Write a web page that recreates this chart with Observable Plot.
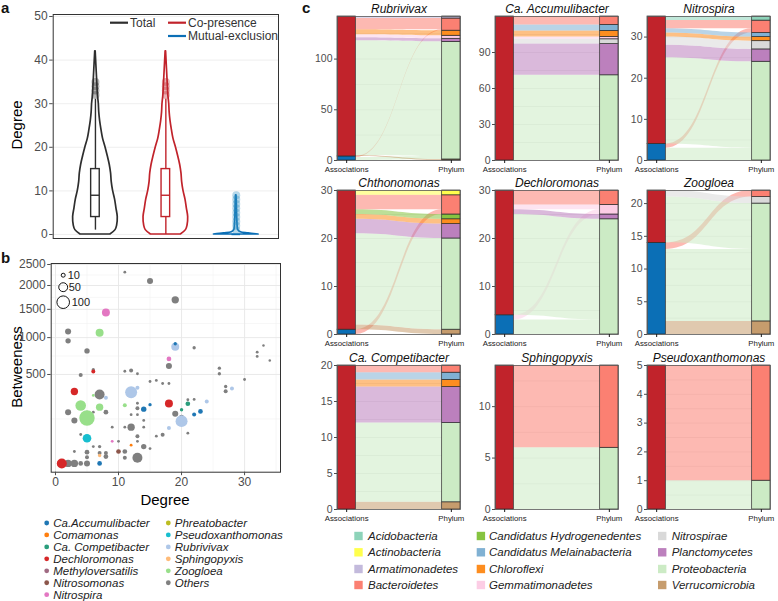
<!DOCTYPE html>
<html><head><meta charset="utf-8">
<script src="https://cdn.jsdelivr.net/npm/d3@7"></script>
<script src="https://cdn.jsdelivr.net/npm/@observablehq/plot@0.6"></script>
<style>
body{margin:0;background:#fff;}
#root{position:relative;width:778px;height:601px;overflow:hidden;font-family:"Liberation Sans",Arial,Helvetica,sans-serif;}
#root svg{overflow:visible;}
</style></head><body><div id="root"></div>
<script>
// ---------------- DATA ----------------
// panel a : violins (relative density) and box statistics
const groups = ["Total", "Co-presence", "Mutual-exclusion"];
const violinLevels = [0,1,2,4,6,8,10,12,14,16,18,20,22,24,26,28,30,32,34,36,38,40,42];
const totalDensity = [0.67,0.90,0.97,1.0,0.94,0.88,0.79,0.73,0.70,0.64,0.55,0.45,0.34,0.27,0.21,0.17,0.15,0.11,0.09,0.07,0.05,0.03,0.01];
const coDensity    = [0.67,0.90,0.97,1.0,0.94,0.88,0.79,0.73,0.70,0.64,0.55,0.45,0.34,0.27,0.21,0.17,0.15,0.11,0.09,0.07,0.05,0.03,0.01];
const mutualLevels = [0,0.25,0.5,1,2,3,4,5,6,7,8,9];
const mutualDensity = [1.0,0.55,0.2,0.09,0.06,0.05,0.04,0.035,0.03,0.025,0.02,0.01];
const q1 = [4, 4, 0], median = [9, 9, 0], q3 = [15, 15, 0];
const whiskerLow = [1, 0, 0], whiskerHigh = [31, 31, 0];
const outliers = [[32,33,34,35], [32,33,34,35], [1,2,3,4,5,6,7,8,9]];
const aTicks = [0,10,20,30,40,50];

// panel b : [degree, betweenness, size, genus]
const scatter = [
 [11,2310,5,"Others"],[15,2100,23,"Others"],[19,1690,34,"Others"],[8,1440,40,"Nitrospira"],
 [2,1100,23,"Others"],[2,950,18,"Others"],[7,1080,40,"Zoogloea"],[5,800,18,"Others"],
 [19,860,40,"Rubrivivax"],[19,905,7,"Ca.Accumulibacter"],[22,845,7,"Others"],[18,690,14,"Nitrospira"],
 [18,600,23,"Others"],[6,555,7,"Others"],[6,535,10,"Dechloromonas"],[4,495,10,"Others"],
 [11,537,5,"Others"],[12,546,10,"Others"],[13,508,5,"Others"],[26,573,7,"Others"],
 [26,508,7,"Others"],[30,445,5,"Others"],[32,782,5,"Others"],[32,723,5,"Others"],
 [33,878,4,"Others"],[34,670,4,"Others"],[15,424,5,"Others"],[16,435,5,"Others"],
 [17,404,5,"Others"],[18,404,5,"Others"],[3,327,34,"Dechloromonas"],[7,300,63,"Others"],
 [6,292,5,"Zoogloea"],[8,272,10,"Rubrivivax"],[12,321,90,"Rubrivivax"],[13,362,10,"Rubrivivax"],
 [27,374,7,"Others"],[27,330,10,"Others"],[28,355,10,"Rubrivivax"],[4,212,71,"Zoogloea"],
 [7,200,34,"Zoogloea"],[5,130,150,"Zoogloea"],[2,166,23,"Others"],[3,117,23,"Others"],
 [5,166,5,"Others"],[6,166,5,"Others"],[8,166,14,"Others"],[11,214,10,"Zoogloea"],
 [13,229,5,"Others"],[13,193,10,"Others"],[14,186,18,"Ca.Accumulibacter"],[15,218,7,"Ca.Accumulibacter"],
 [18,227,40,"Dechloromonas"],[19,156,23,"Others"],[20,135,14,"Others"],[20,113,90,"Rubrivivax"],
 [20,182,7,"Ca. Competibacter"],[21,225,14,"Ca. Competibacter"],[21,256,5,"Others"],[22,259,5,"Others"],
 [22,152,10,"Ca.Accumulibacter"],[23,171,14,"Ca.Accumulibacter"],[24,243,10,"Rubrivivax"],[18,79,10,"Rubrivivax"],
 [21,58,5,"Others"],[12,83,34,"Others"],[13,150,5,"Others"],[12,150,5,"Others"],
 [14,117,5,"Others"],[14,83,5,"Others"],[11,83,5,"Others"],[9,83,5,"Others"],
 [5,40,47,"Pseudoxanthomonas"],[4,53,5,"Others"],[13,47,10,"Others"],[16,47,5,"Others"],
 [17,52,10,"Others"],[9,31,5,"Nitrospira"],[10,31,5,"Others"],[12,21,5,"Comamonas"],
 [13,31,5,"Others"],[14,18,18,"Others"],[15,14,5,"Others"],[10,9,14,"Nitrosomonas"],
 [6,18,5,"Others"],[7,18,7,"Others"],[3,9,5,"Others"],[5,8,14,"Others"],
 [7,7,10,"Others"],[8,7,10,"Others"],[11,9,14,"Others"],[11,2,10,"Others"],
 [13,2,63,"Others"],[7,4,7,"Sphingopyxis"],[7,0,14,"Ca.Accumulibacter"],[1,0,63,"Dechloromonas"],
 [2,0,34,"Others"],[3,0,34,"Others"],[4,0,14,"Others"],[5,0,23,"Others"],
 [5,2.5,10,"Others"],[8,3,14,"Others"]
];
const genusNames = ["Ca.Accumulibacter","Comamonas","Ca. Competibacter","Dechloromonas","Methyloversatilis","Nitrosomonas","Nitrospira","Phreatobacter","Pseudoxanthomonas","Rubrivivax","Sphingopyxis","Zoogloea","Others"];
const genusColors = ["#1f77b4","#ff7f0e","#2a9d7c","#d62728","#a06a82","#8c564b","#e377c2","#bcbd22","#17becf","#aec7e8","#ffbb78","#98df8a","#7f7f7f"];
const bxTicks = [0,10,20,30], bxMinor = [5,15,25,35];
const byTicks = [500,1000,1500,2000,2500], byMinor = [125,729,1237,1741,2243];
const sizeLegend = [10,50,100];

// panel c : alluvial counts per phylum (order of phyla) for each genus
const phyla = ["Acidobacteria","Actinobacteria","Armatimonadetes","Bacteroidetes","Candidatus Hydrogenedentes","Candidatus Melainabacteria","Chloroflexi","Gemmatimonadetes","Nitrospirae","Planctomycetes","Proteobacteria","Verrucomicrobia"];
const phylumColors = ["#8dd3b9","#ffff4d","#c3badc","#fb8072","#86c441","#80b1d3","#fd8d1f","#fccde5","#d9d9d9","#bc80bd","#ccebc5","#c69c6d"];
const genera = ["Rubrivivax","Ca. Accumulibacter","Nitrospira","Chthonomonas","Dechloromonas","Zoogloea","Ca. Competibacter","Sphingopyxis","Pseudoxanthomonas"];
const assocs = ["Co-presence","Mutual-exclusion"];
const coCounts = [
  [0,0,2,11,0,0,5,3,0,3,113,1],
  [0,0,0,7,0,5,5,2,4,26,71,0],
  [1,0,0,2,0,1,1,0,2,3,21,0],
  [0,1,0,3,1,0,1,0,0,3,19,1],
  [0,0,0,3,0,0,0,1,0,1,21,0],
  [0,0,0,0,0,0,0,0,1,0,7,0],
  [0,0,0,1,0,1,1,0,0,5,11,1],
  [0,0,0,8,0,0,0,0,0,0,6,0],
  [0,0,0,4,0,0,0,0,0,0,1,0]
];
const mxCounts = [
  [0,0,0,1,0,0,0,0,0,0,3,0],
  [0,0,0,0,0,0,0,0,0,0,0,0],
  [0,0,0,1,0,0,0,0,0,0,3,0],
  [0,0,0,1,0,0,0,0,0,0,0,0],
  [0,0,0,0,0,0,0,1,0,0,3,0],
  [0,0,0,1,0,0,0,0,0,0,11,2],
  [0,0,0,0,0,0,0,0,0,0,0,0],
  [0,0,0,0,0,0,0,0,0,0,0,0],
  [0,0,0,0,0,0,0,0,0,0,0,0]
];
const cTicks = [[0,50,100],[0,30,60,90],[0,10,20,30],[0,10,20,30],[0,10,20,30],[0,5,10,15,20],[0,5,10,15,20],[0,5,10],[0,1,2,3,4,5]];
const axisLabels = ["Associations","Phylum"];

// ---------------- LAYOUT ----------------
const FONT = '"Liberation Sans", Arial, Helvetica, sans-serif';
const root = document.getElementById("root");
function place(node, left, top) {
  node.style.position = "absolute"; node.style.left = left + "px"; node.style.top = top + "px";
  root.appendChild(node);
}
const groupColors = ["#2e2e2e", "#c1232b", "#0b6fb6"];
const RED = "#c1232b", BLUE = "#0b6fb6";

// ---------- panel a ----------
{
  const HALF = 0.317, BOX = 0.061;
  const dens = [[violinLevels, totalDensity],[violinLevels, coDensity],[mutualLevels, mutualDensity]];
  const marks = [Plot.gridY(aTicks, {stroke: "#ebebeb", strokeOpacity: 1, strokeWidth: 0.8})];
  groups.forEach((g, i) => {
    const c = i + 1, col = groupColors[i];
    const rows = dens[i][0].map((y, k) => ({y, w: dens[i][1][k]}));
    marks.push(Plot.areaX(rows, {y: "y", x1: d => c - HALF * d.w, x2: d => c + HALF * d.w, fill: "white", stroke: col, strokeWidth: 1.7, curve: "catmull-rom"}));
    marks.push(Plot.ruleX([{lo: whiskerLow[i], hi: q1[i]}, {lo: q3[i], hi: whiskerHigh[i]}], {x: () => c, y1: "lo", y2: "hi", stroke: col, strokeWidth: 1.4}));
    marks.push(Plot.rect([{a: q1[i], b: q3[i]}], {x1: () => c - BOX, x2: () => c + BOX, y1: "a", y2: "b", fill: "white", stroke: col, strokeWidth: 1.4}));
    marks.push(Plot.ruleY([median[i]], {x1: () => c - BOX, x2: () => c + BOX, y: d => d, stroke: col, strokeWidth: 1.4}));
    marks.push(Plot.dot(outliers[i], {x: () => c, y: d => d, r: 4, fill: i === 2 ? "#2f8fc0" : col, fillOpacity: 0.35, stroke: "none"}));
  });
  marks.push(Plot.frame({stroke: "#333", strokeWidth: 1}));
  marks.push(Plot.axisY({ticks: aTicks, tickSize: 3.5, tickPadding: 2, fontSize: 12, color: "#4d4d4d", label: null}));
  const svg = Plot.plot({
    width: 290, height: 245, marginLeft: 52.7, marginRight: 12, marginTop: 14, marginBottom: 7,
    style: {fontFamily: FONT, background: "transparent", overflow: "visible"},
    x: {domain: [0.4, 3.6], axis: null, label: null},
    y: {domain: [-0.92, 50.46], label: null},
    marks
  });
  place(svg, 0, 0);
}

// ---------- panel b ----------
{
  const rows = scatter.map(([d, b, s, g]) => ({d, b, s, g}));
  const dyL = [11.7, 23.7, 38.7], dxT = [16.5, 17.5, 20.5];
  const svg = Plot.plot({
    width: 290, height: 258, marginLeft: 50.7, marginRight: 10, marginTop: 13, marginBottom: 36.3,
    style: {fontFamily: FONT, background: "transparent", overflow: "visible"},
    x: {domain: [-0.68, 35.7], label: null},
    y: {type: "sqrt", domain: [-4.84, 2525], label: null},
    r: {type: "sqrt", domain: [0, 100], range: [0, 6.3]},
    color: {domain: genusNames, range: genusColors},
    marks: [
      Plot.gridX(bxMinor, {stroke: "#f1f1f1", strokeOpacity: 1, strokeWidth: 0.6}),
      Plot.gridY(byMinor, {stroke: "#f1f1f1", strokeOpacity: 1, strokeWidth: 0.6}),
      Plot.gridX(bxTicks, {stroke: "#e6e6e6", strokeOpacity: 1, strokeWidth: 0.9}),
      Plot.gridY(byTicks, {stroke: "#e6e6e6", strokeOpacity: 1, strokeWidth: 0.9}),
      Plot.dot(rows.filter(r => r.g === "Others"), {x: "d", y: "b", r: "s", fill: "g", stroke: "none"}),
      Plot.dot(rows.filter(r => r.g !== "Others"), {x: "d", y: "b", r: "s", fill: "g", stroke: "none"}),
      Plot.frame({stroke: "#333", strokeWidth: 1}),
      Plot.axisX({ticks: bxTicks, tickSize: 3.5, tickPadding: 2, fontSize: 12, color: "#4d4d4d", label: null}),
      Plot.axisY({ticks: byTicks, tickFormat: d => String(d), tickSize: 3.5, tickPadding: 2, fontSize: 12, color: "#4d4d4d", label: null}),
      ...sizeLegend.map((v, i) => Plot.dot([v], {frameAnchor: "top-left", dx: 12, dy: dyL[i], r: d => d, fill: "none", stroke: "#111", strokeWidth: 1})),
      ...sizeLegend.map((v, i) => Plot.text([v], {frameAnchor: "top-left", dx: dxT[i], dy: dyL[i], lineAnchor: "middle", text: d => String(d), textAnchor: "start", fontSize: 11, fill: "#222"}))
    ]
  });
  place(svg, 0, 250);
}

// ---------- panel c ----------
const W = 0.175;
const colLeft = [337, 495, 647], rowTop = [16, 190, 365];
const ML = 34, MT = 22;
genera.forEach((genus, gi) => {
  const co = coCounts[gi], mx = mxCounts[gi];
  const flows = [];
  let yl = 0;
  [["Mutual-exclusion", mx], ["Co-presence", co]].forEach(([assoc, counts]) => {
    for (let p = phyla.length - 1; p >= 0; p--) if (counts[p] > 0) {
      flows.push({id: assoc + p, assoc, p, phylum: phyla[p], n: counts[p], l0: yl, l1: yl + counts[p]});
      yl += counts[p];
    }
  });
  const total = yl, mxTotal = d3.sum(mx);
  const strata = [];
  let yr = 0;
  for (let p = phyla.length - 1; p >= 0; p--) {
    const start = yr;
    for (const assoc of ["Mutual-exclusion", "Co-presence"]) {
      const f = flows.find(f => f.p === p && f.assoc === assoc);
      if (f) { f.r0 = yr; f.r1 = yr + f.n; yr += f.n; }
    }
    if (yr > start) strata.push({key: phyla[p], x1: 2 - W / 2, x2: 2 + W / 2, y1: start, y2: yr});
  }
  if (mxTotal > 0) strata.push({key: "Mutual-exclusion", x1: 1 - W / 2, x2: 1 + W / 2, y1: 0, y2: mxTotal});
  strata.push({key: "Co-presence", x1: 1 - W / 2, x2: 1 + W / 2, y1: mxTotal, y2: total});
  const rows = flows.flatMap(f => [
    {id: f.id, phylum: f.phylum, x: 1 + W / 2, y1: f.l0, y2: f.l1},
    {id: f.id, phylum: f.phylum, x: 2 - W / 2, y1: f.r0, y2: f.r1}
  ]);
  const yT = cTicks[gi], step = yT[1] - yT[0];
  const grid = d3.range(0, total + 1e-9, step / 2);
  const svg = Plot.plot({
    width: 123 + ML + 4, height: 144 + MT + 20,
    marginLeft: ML, marginRight: 4, marginTop: MT, marginBottom: 20,
    style: {fontFamily: FONT, background: "transparent", overflow: "visible"},
    x: {domain: [1 - W / 2, 2 + W / 2], label: null},
    y: {domain: [0, total], label: null},
    color: {domain: [...phyla, ...assocs], range: [...phylumColors, RED, BLUE]},
    marks: [
      Plot.gridY(grid, {stroke: "#e2e2e2", strokeOpacity: 1, strokeWidth: 0.6}),
      Plot.areaY(rows, {x: "x", y1: "y1", y2: "y2", z: "id", fill: "phylum", fillOpacity: 0.55, curve: "bump-x"}),
      Plot.rect(strata, {x1: "x1", x2: "x2", y1: "y1", y2: "y2", fill: "key", stroke: "#2b2b2b", strokeWidth: 0.7}),
      Plot.frame({stroke: "#5a5a5a", strokeWidth: 0.8}),
      Plot.axisY({ticks: yT, tickFormat: d => String(d), tickSize: 3, tickPadding: 2, fontSize: 10.5, color: "#4d4d4d", label: null}),
      Plot.axisX({ticks: [1, 2], tickFormat: d => axisLabels[d - 1], tickSize: 3, tickPadding: 3, fontSize: 7.8, color: "#1a1a1a", label: null}),
      Plot.text([genus], {frameAnchor: "top", lineAnchor: "middle", dy: -7, text: d => d, fontStyle: "italic", fontSize: 12, fill: "#111"})
    ]
  });
  place(svg, colLeft[gi % 3] - ML, rowTop[Math.floor(gi / 3)] - MT);
});

// ---------- overlay texts & legends ----------
{
  const ov = d3.create("svg").attr("width", 778).attr("height", 601)
    .style("font-family", FONT).style("pointer-events", "none");
  const t = (x, y, s, o = {}) => ov.append("text").attr("x", x).attr("y", y).text(s)
    .attr("font-size", o.size || 12).attr("fill", o.fill || "#111")
    .attr("font-weight", o.weight || null).attr("font-style", o.style || null)
    .attr("text-anchor", o.anchor || "start").attr("dominant-baseline", o.base || "alphabetic")
    .attr("transform", o.rot ? `rotate(-90 ${x} ${y})` : null);
  // panel letters
  t(1, 13, "a", {size: 15, weight: "bold"});
  t(1, 263, "b", {size: 15, weight: "bold"});
  t(302, 13, "c", {size: 15, weight: "bold"});
  // axis titles
  t(22, 125, "Degree", {size: 15, anchor: "middle", rot: true, fill: "#000"});
  t(22, 367, "Betweeness", {size: 15, anchor: "middle", rot: true, fill: "#000"});
  t(165, 505, "Degree", {size: 15, anchor: "middle", fill: "#000"});
  // legend a
  const la = [[110, 22.7, 0], [168, 22.7, 1], [168, 36, 2]];
  la.forEach(([x, y, i]) => {
    ov.append("line").attr("x1", x).attr("x2", x + 18).attr("y1", y).attr("y2", y)
      .attr("stroke", groupColors[i]).attr("stroke-width", 2.2);
    t(x + 20, y, groups[i], {size: 12, fill: "#333", base: "central"});
  });
  // legend b (genus)
  genusNames.forEach((g, i) => {
    const col = i < 7 ? 0 : 1, row = i < 7 ? i : i - 7;
    const x = col ? 168.3 : 46.7, y = 523 + row * 11.95;
    ov.append("circle").attr("cx", x).attr("cy", y).attr("r", 2.4).attr("fill", genusColors[i]);
    t(x + 6.5, y, g, {size: 11.5, style: "italic", fill: "#222", base: "central"});
  });
  // legend c (phylum)
  phyla.forEach((p, i) => {
    const col = Math.floor(i / 4), row = i % 4;
    const sx = [354.3, 476.7, 658][col], tx = [368, 489, 671.7][col];
    const y = [536, 552.3, 569, 585][row];
    ov.append("rect").attr("x", sx).attr("y", y - 4.2).attr("width", 8.4).attr("height", 8.4).attr("fill", phylumColors[i]);
    t(tx, y, p, {size: 11.5, style: "italic", fill: "#222", base: "central"});
  });
  place(ov.node(), 0, 0);
}
</script></body></html>
